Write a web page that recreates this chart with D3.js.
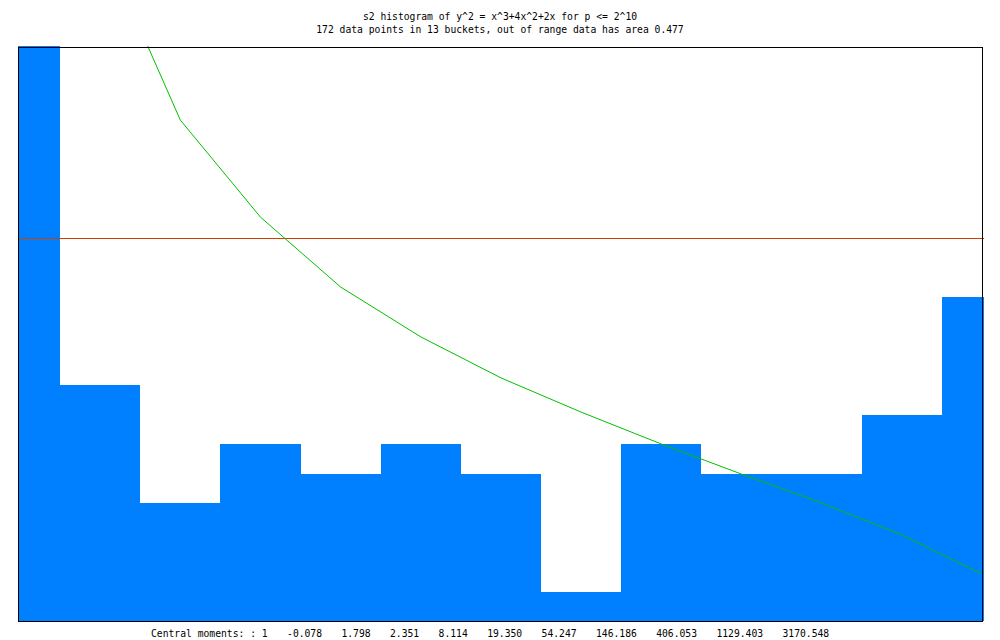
<!DOCTYPE html>
<html>
<head>
<meta charset="utf-8">
<script src="https://cdn.jsdelivr.net/npm/d3@7/dist/d3.min.js"></script>
<style>
  html, body { margin: 0; padding: 0; background: #fff; }
  svg { display: block; }
  text { font-family: "DejaVu Sans Mono", "Liberation Mono", monospace; font-size: 9.7px; fill: #000; }
</style>
</head>
<body>
<script>
// ---- data ----
const bucketIndex = [0, 1, 2, 3, 4, 5, 6, 7, 8, 9, 10, 11, 12];
const bucketCounts = [25, 8, 4, 6, 5, 6, 5, 1, 6, 5, 5, 7, 11];
const expectedCurve = [40, 23.15, 16.98, 13.69, 11.32, 9.63, 8.24, 7.08, 6.0, 4.98, 4.0, 2.92, 1.59];
const uniformLevel = 13;
const titleLines = [
  "s2 histogram of y^2 = x^3+4x^2+2x for p <= 2^10",
  "172 data points in 13 buckets, out of range data has area 0.477"
];
const momentsLabel = "Central moments: : 1";
const momentValues = ["-0.078", "1.798", "2.351", "8.114", "19.350", "54.247", "146.186", "406.053", "1129.403", "3170.548"];

// ---- layout ----
const W = 1000, H = 640;
const plot = { left: 18, right: 984, top: 46, bottom: 621 };

const svg = d3.select("body").append("svg").attr("width", W).attr("height", H);

const x = d3.scaleLinear().domain([0, 12]).range([20, 982]);
const y = d3.scaleLinear().domain([0, 19.5]).range([621, 45.75]);
const bw = x(1) - x(0);

svg.append("clipPath").attr("id", "clip")
  .append("rect")
  .attr("x", plot.left).attr("y", plot.top)
  .attr("width", plot.right - plot.left).attr("height", plot.bottom - plot.top);

const g = svg.append("g").attr("clip-path", "url(#clip)");

g.selectAll("rect.bar").data(bucketIndex).join("rect")
  .attr("class", "bar")
  .attr("x", d => x(d) - bw / 2)
  .attr("width", bw)
  .attr("y", d => y(bucketCounts[d]))
  .attr("height", d => y(0) - y(bucketCounts[d]))
  .attr("fill", "#0080ff")
  .attr("shape-rendering", "crispEdges");

g.append("line")
  .attr("x1", x(0) - bw / 2).attr("x2", x(12) + bw / 2)
  .attr("y1", Math.round(y(uniformLevel)) + 0.5).attr("y2", Math.round(y(uniformLevel)) + 0.5)
  .attr("stroke", "#cc4000").attr("stroke-width", 1)
  .attr("shape-rendering", "crispEdges");

g.append("path")
  .datum(bucketIndex)
  .attr("d", d3.line().x(d => x(d)).y(d => y(expectedCurve[d])))
  .attr("fill", "none")
  .attr("stroke", "#00c000")
  .attr("stroke-width", 1);

// frame
svg.append("rect")
  .attr("x", 18.5).attr("y", 47.5)
  .attr("width", 964).attr("height", 574)
  .attr("fill", "none").attr("stroke", "#000").attr("stroke-width", 1)
  .attr("shape-rendering", "crispEdges");

// titles
svg.selectAll("text.title").data(titleLines).join("text")
  .attr("class", "title")
  .attr("x", 500).attr("y", (d, i) => 20 + i * 13)
  .attr("text-anchor", "middle")
  .text(d => d);

// moments line
const mt = svg.append("text")
  .attr("x", 151).attr("y", 637)
  .attr("xml:space", "preserve")
  .style("white-space", "pre");
mt.append("tspan").text(momentsLabel);
momentValues.forEach(v => {
  mt.append("tspan").attr("dx", 1.9).text("   " + v);
});
</script>
</body>
</html>
